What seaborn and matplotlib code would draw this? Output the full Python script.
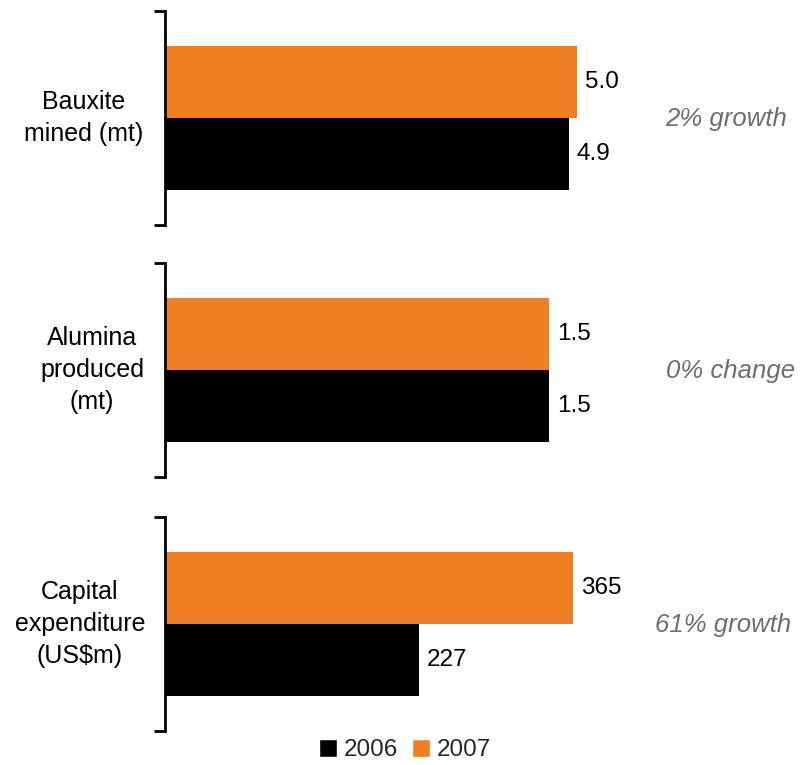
import matplotlib
matplotlib.use("Agg")
import matplotlib.pyplot as plt
import seaborn as sns
import pandas as pd
from matplotlib.patches import Patch

sns.set_theme(style="white")
plt.rcParams['font.family'] = ['Liberation Sans', 'DejaVu Sans']

categories = ["Bauxite\nmined (mt)", "Alumina\nproduced\n(mt)", "Capital\nexpenditure\n(US$m)"]
years = ["2007", "2006"]
values_2006 = [4.9, 1.5, 227]
values_2007 = [5.0, 1.5, 365]
value_labels_2006 = ["4.9", "1.5", "227"]
value_labels_2007 = ["5.0", "1.5", "365"]
growth_labels = ["2% growth", "0% change", "61% growth"]
xmax = [7.767, 2.5, 572.5]

colors = {"2006": "#000000", "2007": "#EE7F22"}

W, H = 805, 765
fig = plt.figure(figsize=(W / 100, H / 100), dpi=100)

panel_tops = [11, 263, 517]
panel_h = 214
ax_left, ax_right = 165, 805
label_cx = [84, 92, 80]
growth_cx = [726, 731, 723]

for i in range(3):
    top = panel_tops[i]
    ax = fig.add_axes([ax_left / W, 1 - (top + panel_h) / H, (ax_right - ax_left) / W, panel_h / H])
    df = pd.DataFrame({"year": years, "value": [values_2007[i], values_2006[i]]})
    sns.barplot(data=df, x="value", y="year", hue="year", order=years,
                palette=colors, width=1.0, orient="h", ax=ax, legend=False,
                saturation=1, linewidth=0)
    half = panel_h / 144 * 2 / 2
    ax.set_ylim(0.5 + half, 0.5 - half)
    ax.set_xlim(0, xmax[i])
    for s in ["top", "right", "bottom"]:
        ax.spines[s].set_visible(False)
    ax.spines["left"].set_linewidth(2)
    ax.spines["left"].set_color("black")
    ax.set_xticks([])
    ax.set_yticks([0.5 - half, 0.5 + half])
    ax.set_yticklabels([])
    ax.tick_params(axis="y", left=True, length=8, width=2, color="black")
    ax.set_xlabel("")
    ax.set_ylabel("")
    ax.patch.set_alpha(0)
    for j, (v, lab) in enumerate([(values_2007[i], value_labels_2007[i]), (values_2006[i], value_labels_2006[i])]):
        ax.annotate(lab, xy=(v, j), xytext=(5.5, 0), textcoords="offset points",
                    ha="left", va="center", fontsize=17.5, color="black")
    yc = 1 - (top + panel_h / 2) / H
    fig.text(label_cx[i] / W, yc, categories[i], ha="center", va="center", fontsize=18,
             color="black", linespacing=1.4)
    fig.text(growth_cx[i] / W, yc - 1 / H, growth_labels[i], ha="center", va="center", fontsize=18.5,
             color="#6E6E6E", style="italic")

handles = [Patch(facecolor=colors["2006"], label="2006"), Patch(facecolor=colors["2007"], label="2007")]
fig.legend(handles=handles, loc="center", bbox_to_anchor=(405 / W, 1 - 750 / H), ncol=2,
           frameon=False, fontsize=17.5, handlelength=0.75, handleheight=0.75,
           handletextpad=0.3, columnspacing=0.55, borderpad=0)

fig.savefig("out.png", dpi=100)
